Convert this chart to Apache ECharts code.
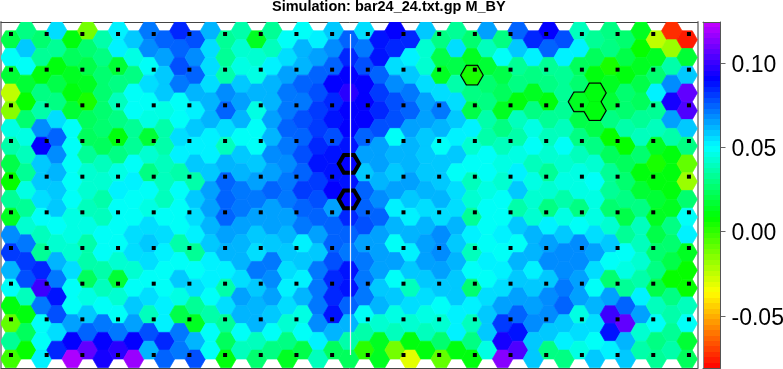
<!DOCTYPE html>
<html><head><meta charset="utf-8">
<style>html,body{margin:0;padding:0;background:#fff}#c{width:783px;height:369px}</style>
<script src="https://cdn.jsdelivr.net/npm/echarts@6/dist/echarts.min.js"></script>
</head><body><div id="c"></div>
<script>
// Cell values in hundredths, one list per hexagon column, top to bottom
var col00=[2,4.8,1.8,-2.5,-1.5,4.6,3.5,2,0.6,3.3,1.5,6.8,8,6.2,5,1,-1,3.2,-0.3];
var col01=[3,5.7,4.9,1.8,0.7,2.5,4.6,4,3.2,4.7,3.3,4.2,7,8.2,7.8,4,0.9,2.2,0.8];
var col02=[2.5,3.2,1,3,3.6,6.8,9,6,6,5.5,5,4,3.4,8.3,10,7.2,5,5,5.1];
var col03=[5.6,3.4,1.1,2,3,5.5,7.3,6.9,6.2,5.7,5.7,4.9,4.3,6.2,7.2,8.6,7.8,5.6,8.5];
var col04=[1,2.2,1.3,0.9,1.6,5,5,5,4.8,5,4.4,4.4,4.2,5.4,5,5,6.5,9.2,12];
var col05=[-1.2,2.7,2,1.5,0.3,2.2,2.3,3.3,4.3,4.2,4,4.5,3.7,3.5,2.3,4.5,5.7,7.5,10.5];
var col06=[3.5,2.8,2.6,2.6,2.6,2.6,2.4,3.8,4.3,3.5,3.8,4.8,4.9,3.6,3.8,5,7,9,9.3];
var col07=[5.1,5.2,1.7,2.9,3.9,3,1,2.9,4.4,5.3,4.9,5,5,4.3,1.7,4.1,4.9,7.1,9.8];
var col08=[6,4.4,3.1,4.9,4.9,3.3,3.4,4.8,5.1,5,4.8,5.4,5.4,4.3,4.9,6,6.5,9.2,11.5];
var col09=[7.1,6.8,4.8,5.5,4.8,4.4,1.8,4.2,3,5,4.6,5.4,5.7,5.5,5,5.5,4,7.8,6.3];
var col10=[7.3,6.5,5.8,5.9,4.5,3.7,3.7,3.9,3.8,3.8,5,5.6,5.1,5,5,5.2,5.1,8.3,7.3];
var col11=[8.3,7.4,7.9,7,5,5,5.4,5.1,3.6,5,5,5,3.5,5,5.7,4.6,2,7.2,7.2];
var col12=[7.7,6.8,7.3,6.1,5.1,5.9,5.1,5.7,3.5,5.9,5.4,5.1,3.3,5,5.6,3.4,1.2,6.3,7.9];
var col13=[6.1,5.4,5.5,5.4,6.2,6.2,5.1,5.1,5.9,6.4,6.5,6.3,5.7,5.1,5.1,5,3.7,4.9,4.9];
var col14=[3.2,3.2,3.6,6.8,7.6,5.5,4,6.2,7.3,7.5,7.3,6.5,6.2,5.2,3.5,5.5,3.4,2.2,0.9];
var col15=[3.6,4.3,4.5,5.9,6.4,6.1,5,5.8,6.3,7.2,7.2,6.6,6.2,6.1,5.5,6.4,6.3,4.9,3.9];
var col16=[1.2,4.1,4.7,6.1,4.6,5,5,5.8,6.4,7.2,6.4,5.7,5.5,7,6,6.2,6.1,4,2.6];
var col17=[3.2,3.8,5.2,6.2,6.2,6.6,6.1,6.7,6.5,7.4,6.5,6.5,5.9,7.1,6.8,6.4,5.8,5,3.1];
var col18=[5,5.6,6.4,7.1,7,7.5,7.2,6.9,7.2,7.2,6.6,6.2,5.8,5.5,5.1,5.5,4.2,3,1.5];
var col19=[5,6.1,6.2,7.6,7.2,7.9,7.4,7.7,7.4,8,7.5,7,5.1,6,5.1,6.1,4.4,4.8,2];
var col20=[5.1,6.4,7.4,7.9,8,8.2,8.3,8.7,8.2,7.7,7.3,6.5,6,7,7.2,7.1,6.7,5.2,4];
var col21=[5.8,6.9,7.6,9.1,8.4,8.7,7.9,8.7,8.6,8.9,6.5,7.4,7.5,7.9,8.3,8.3,8.6,6.1,2.2];
var col22=[7.6,8.3,8.9,9.7,9.1,9,8.7,9,8.8,9,8.5,7.6,7.2,8.7,8.6,7.3,6.3,3.5,2.2];
var col23=[5.6,7.2,7.8,9,9,9,7.6,6.6,5.8,7.6,7.4,7.9,6.5,7.2,7.2,7,5,3.7,0];
var col24=[8.7,8.6,7.6,8.2,8.3,7.9,6.6,6.5,6.3,6.9,7.4,6.6,6.4,6.5,5.8,6.3,4.2,1.4,1.2];
var col25=[8.9,8.3,5.4,6.9,7.7,7.9,5,6.1,5.9,6.5,5.3,6.3,5,6.4,4.9,5.7,4.5,3.8,-1.2];
var col26=[8.3,5.3,5.9,7.1,7.6,6.5,6.3,6.1,6.5,6,5.2,6.2,5.1,5.9,4,5.6,4.2,0.9,-3];
var col27=[5.9,4.2,4.3,5.6,6.6,6.5,5.9,5.9,5.9,6.2,5.6,6.2,6.6,6.5,5.9,5.5,4.4,3.9,1.1];
var col28=[3,2,1.5,5.5,7.1,6.1,5,6,5.8,6.3,5.5,6.8,6.9,6.5,6,5,4.3,2.5,-0.9];
var col29=[3.2,5.4,2,3.6,5.4,6,5.1,5.7,4.9,5.4,5.5,6.3,5.9,6.2,5.8,5.7,5.3,5.3,0.9];
var col30=[2.7,1.2,0.4,3,2,5.1,4.2,4.9,4,4.2,3.2,5.1,4,4.9,2.7,5.2,4,2.9,0.9];
var col31=[6.6,3.9,1.8,2.5,2.8,3.7,3.5,4.8,4.9,4.5,5,5,5,5.3,4.9,5.4,5.7,5.7,4.6];
var col32=[3,4.8,1.9,2.2,1.4,3.1,3.8,4.4,4.2,4.9,4.9,5.3,5,5.3,5.5,6.6,8.2,9.4,11.2];
var col33=[7.3,5.7,3.2,3,1,4,3.5,4.5,5.3,5.7,3.7,5.9,5,6.2,6,6.6,7.6,8.7,10.3];
var col34=[8.3,5.3,3.1,1.5,2.8,4.4,4.9,4,4.5,4.2,4.3,6.3,6.2,5.3,5.9,6.5,6.8,5.8,6];
var col35=[9.2,7.5,3.2,2.9,0.9,3.3,3.8,4.2,3.2,4.2,2.8,5.1,6.6,6.9,6,6.7,6.7,5.7,3.1];
var col36=[7.9,5.3,3.4,3.3,3.2,4,4.9,4.1,4.6,3.6,4.4,6,6.9,6.8,7.2,7.4,6,5.1,3.1];
var col37=[4,5.2,2.3,2.6,1.3,1.9,2.8,3.9,4.5,4.6,2.9,5,6.7,6.9,6.4,6.6,4.4,5.4,4.4];
var col38=[3.3,2.2,1,0.9,1,2.1,3.1,4.2,4.8,4.5,4.5,5.4,6.5,5.5,5,6.3,5.6,5,5.8];
var col39=[3,3.1,0.3,1.5,1.7,3,0.7,2.3,3.3,3.4,2.6,4.2,5.7,5,2.5,6.5,10.1,8.8,5.3];
var col40=[2.5,2,0.9,2.6,2.6,3.5,0.6,2.4,2.7,3.1,2,3.4,5,4.5,3.2,7.5,10.7,6.2,5.7];
var col41=[1.4,0.6,1.2,2,2.4,3.4,3.8,2.6,0.9,1.8,2.8,3.9,4,4.2,3.5,5.2,6.4,4.3,3.6];
var col42=[-2.4,1.3,2.5,5.2,3.2,3.9,1.5,0.3,0.9,1.6,1.2,2.1,2.7,2.8,1.9,3.9,4.9,2.8,3.2];
var col43=[-7.2,-1.8,3.5,6.8,9.3,6.4,3.6,1.1,1,0.9,1.5,3,2.5,2,0.6,2.8,3.7,3.4,3.7];
var col44=[-7.7,1.8,5.9,10.8,10.2,5.7,2.8,-1,-1.9,2.5,5,5.2,1.5,0.8,0.7,3.9,5,1.8,2.2];
var columns=[col00,col01,col02,col03,col04,col05,col06,col07,col08,col09,col10,col11,col12,col13,col14,col15,col16,col17,col18,col19,col20,col21,col22,col23,col24,col25,col26,col27,col28,col29,col30,col31,col32,col33,col34,col35,col36,col37,col38,col39,col40,col41,col42,col43,col44];

// Highlighted cells [column,row]
var thinCells=[[30,2],[37,4],[38,3],[38,4]];
var thickCells=[[22,7],[22,9]];

// Colour scale stops [value, r, g, b]
var colorStops=[[-0.081,255,0,0],[-0.036,255,255,0],[0.008,0,255,0],[0.05,0,255,255],[0.09,0,0,255],[0.1241,200,0,255]];
var barMin=-0.081, barMax=0.1241, barLevels=64;
var tickValues=[-0.05,0,0.05,0.10];
var tickLabels=['-0.05','0.00','0.05','0.10'];

// Black marker lattice
var dotColumns=[0,1,2,3,4,5,6,7,8,9,10,11,12,13,14,15,16,17,18,19];
var dotRows=[0,1,2,3,4,5,6,7,8,9];
var centerLine=[[9.515,0],[9.515,9]];

// Lattice layout, in axis units
var colStep=0.4308, colStart=-0.0056, rowStep=0.4973, evenStart=0.16, oddStart=-0.0887, hexR=0.2872;
function cellX(c){return colStart+colStep*c;}
function cellY(c,r){return (c%2===0?evenStart:oddStart)+rowStep*r;}

var cells=[];
columns.forEach(function(vals,c){vals.forEach(function(v,r){cells.push([cellX(c),cellY(c,r),v/100]);});});
function cellsOf(list){return list.map(function(p){return [cellX(p[0]),cellY(p[0],p[1]),columns[p[0]][p[1]]/100];});}

function colorAt(v){
  var lvl=(barMax-barMin)/barLevels;
  v=barMin+(Math.min(Math.floor((v-barMin)/lvl),barLevels-1)+0.5)*lvl;
  for(var i=1;i<colorStops.length;i++){
    var a=colorStops[i-1],b=colorStops[i];
    if(v<=b[0]){var t=(v-a[0])/(b[0]-a[0]);
      return 'rgb('+Math.round(a[1]+(b[1]-a[1])*t)+','+Math.round(a[2]+(b[2]-a[2])*t)+','+Math.round(a[3]+(b[3]-a[3])*t)+')';}
  }
  return 'rgb(200,0,255)';
}
var bands=[];
for(var i=0;i<barLevels;i++){bands.push([barMin+(barMax-barMin)*i/barLevels,barMin+(barMax-barMin)*(i+1)/barLevels]);}

function hexPoints(api){
  var x=api.value(0),y=api.value(1),h=rowStep/2;
  return [[x-hexR,y],[x-hexR/2,y-h],[x+hexR/2,y-h],[x+hexR,y],[x+hexR/2,y+h],[x-hexR/2,y+h]].map(function(p){return api.coord(p);});
}
function fillItem(params,api){
  var col=colorAt(api.value(2));
  return {type:'polygon',shape:{points:hexPoints(api)},style:{fill:col,stroke:col,lineWidth:0.7}};
}
function outline(width){
  return function(params,api){
    return {type:'polygon',shape:{points:hexPoints(api)},style:{fill:'none',stroke:'#000',lineWidth:width}};
  };
}
function bandItem(params,api){
  var a=api.coord([0,api.value(0)]),b=api.coord([1,api.value(1)]);
  var top=Math.round(b[1]),bot=Math.round(a[1]);
  return {type:'rect',shape:{x:a[0],y:top,width:b[0]-a[0],height:bot-top},style:{fill:colorAt((api.value(0)+api.value(1))/2)}};
}
function tickItem(params,api){
  var p=api.coord([1,api.value(1)]);
  var y=Math.round(p[1])+0.5;
  return {type:'group',children:[
    {type:'line',shape:{x1:p[0],y1:y,x2:p[0]+5,y2:y},style:{stroke:'#666',lineWidth:1}},
    {type:'text',x:p[0]+11,y:y+2.5,style:{text:tickLabels[params.dataIndex],font:'23px "Liberation Sans"',fill:'#000',align:'left',verticalAlign:'middle'}}
  ]};
}
function custom(item,data){
  return {type:'custom',renderItem:item,data:data,xAxisIndex:0,yAxisIndex:0,clip:true,silent:true,encode:{x:0,y:1},animation:false};
}
var dots=[];
dotRows.forEach(function(r){dotColumns.forEach(function(c){dots.push([c,r]);});});

var hidden={show:false};
var chart=echarts.init(document.getElementById('c'),null,{renderer:'canvas'});
chart.setOption({
  animation:false,
  backgroundColor:'#fff',
  title:{text:'Simulation: bar24_24.txt.gp M_BY',left:272,top:-1,padding:0,
    textStyle:{fontFamily:'Liberation Sans',fontWeight:'bold',fontSize:14.5,color:'#000'}},
  grid:[
    {left:1,top:22,width:696.5,height:346,containLabel:false},
    {left:703,top:22,width:17.5,height:346,containLabel:false}
  ],
  xAxis:[
    {type:'value',gridIndex:0,min:-0.28,max:19.24,position:'bottom',splitLine:hidden,axisTick:hidden,axisLabel:hidden,
      axisLine:{show:true,onZero:false,lineStyle:{color:'#444',width:1}}},
    {type:'value',gridIndex:0,min:-0.28,max:19.24,position:'top',splitLine:hidden,axisTick:hidden,axisLabel:hidden,
      axisLine:{show:true,onZero:false,lineStyle:{color:'#444',width:1}}},
    {type:'value',gridIndex:1,min:0,max:1,position:'bottom',z:10,splitLine:hidden,axisTick:hidden,axisLabel:hidden,
      axisLine:{show:true,onZero:false,lineStyle:{color:'#555',width:1}}},
    {type:'value',gridIndex:1,min:0,max:1,position:'top',z:10,splitLine:hidden,axisTick:hidden,axisLabel:hidden,
      axisLine:{show:true,onZero:false,lineStyle:{color:'#555',width:1}}}
  ],
  yAxis:[
    {type:'value',gridIndex:0,inverse:true,min:-0.336,max:9.364,position:'left',splitLine:hidden,axisTick:hidden,axisLabel:hidden,
      axisLine:{show:true,onZero:false,lineStyle:{color:'#999',width:2}}},
    {type:'value',gridIndex:0,inverse:true,min:-0.336,max:9.364,position:'right',splitLine:hidden,axisTick:hidden,axisLabel:hidden,
      axisLine:{show:true,onZero:false,lineStyle:{color:'#999',width:2}}},
    {type:'value',gridIndex:1,min:barMin,max:barMax,position:'left',z:10,splitLine:hidden,axisTick:hidden,axisLabel:hidden,
      axisLine:{show:true,onZero:false,lineStyle:{color:'#888',width:1}}},
    {type:'value',gridIndex:1,min:barMin,max:barMax,position:'right',z:10,splitLine:hidden,axisTick:hidden,axisLabel:hidden,
      axisLine:{show:true,onZero:false,lineStyle:{color:'#555',width:1}}}
  ],
  series:[
    custom(fillItem,cells),
    custom(outline(3),cellsOf(thinCells)),
    custom(fillItem,cellsOf(thinCells)),
    custom(outline(4),cellsOf(thickCells)),
    {type:'line',data:centerLine,xAxisIndex:0,yAxisIndex:0,symbol:'none',silent:true,lineStyle:{color:'#e8ecff',width:1.2},animation:false},
    {type:'scatter',data:dots,xAxisIndex:0,yAxisIndex:0,symbol:'rect',symbolSize:4,itemStyle:{color:'#000',opacity:1},silent:true,animation:false},
    {type:'custom',renderItem:bandItem,data:bands,xAxisIndex:2,yAxisIndex:2,clip:false,silent:true,encode:{y:[0,1]},animation:false,z:1},
    {type:'custom',renderItem:tickItem,data:tickValues.map(function(v){return [1,v];}),xAxisIndex:2,yAxisIndex:2,clip:false,silent:true,encode:{x:0,y:1},animation:false}
  ]
});
</script></body></html>
